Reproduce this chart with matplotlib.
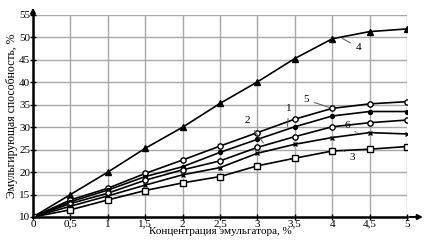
import matplotlib
matplotlib.use("Agg")
import matplotlib.pyplot as plt

x = [0, 0.5, 1, 1.5, 2, 2.5, 3, 3.5, 4, 4.5, 5]
curve4 = [10, 15.0, 20.0, 25.3, 30.0, 35.3, 40.1, 45.3, 49.7, 51.3, 51.9]
curve5 = [10, 13.8, 16.4, 19.7, 22.7, 25.8, 28.8, 31.8, 34.2, 35.2, 35.7]
curve1 = [10, 13.4, 16.0, 19.0, 21.2, 24.4, 27.3, 30.1, 32.5, 33.5, 33.5]
curve2 = [10, 13.0, 15.3, 18.2, 20.5, 22.5, 25.5, 27.9, 30.1, 31.0, 31.6]
curve6 = [10, 12.4, 14.7, 17.1, 19.4, 21.0, 24.2, 26.2, 27.7, 28.8, 28.5]
curve3 = [10, 11.6, 13.8, 15.9, 17.6, 19.0, 21.4, 23.1, 24.7, 25.1, 25.7]

xticks = [0, 0.5, 1, 1.5, 2, 2.5, 3, 3.5, 4, 4.5, 5]
xticklabels = ["0", "0,5", "1", "1,5", "2", "2,5", "3", "3,5", "4", "4,5", "5"]
yticks = [10, 15, 20, 25, 30, 35, 40, 45, 50, 55]

plt.rcParams['font.family'] = ['Liberation Serif', 'DejaVu Serif']

fig = plt.figure(figsize=(4.25, 2.41), dpi=100)
ax = fig.add_axes([33/425, 1 - 217/241, 374/425, 202/241])

ax.set_xlim(0, 5)
ax.set_ylim(10, 55)
ax.set_xticks(xticks)
ax.set_xticklabels(xticklabels)
ax.set_yticks(yticks)
ax.grid(True, color="#a8a8a8", linewidth=1.0)
ax.set_axisbelow(True)
for s in ["top", "right"]:
    ax.spines[s].set_visible(False)
for s in ["left", "bottom"]:
    ax.spines[s].set_linewidth(1.8)
ax.tick_params(axis="both", direction="inout", length=4, width=1.0,
               labelsize=8, pad=0)

lw = 1.2
ms = 3.8
ax.plot(x, curve4, color="black", lw=lw, marker="^", ms=ms, mfc="black")
ax.plot(x, curve5, color="black", lw=lw, marker="o", ms=ms, mfc="white", mew=1)
ax.plot(x, curve1, color="black", lw=lw, marker="o", ms=2.8, mfc="black")
ax.plot(x, curve2, color="black", lw=lw, marker="o", ms=ms, mfc="white", mew=1)
ax.plot(x, curve6, color="black", lw=lw, marker="x", ms=3.2, mew=1)
ax.plot(x, curve3, color="black", lw=lw, marker="s", ms=ms, mfc="white", mew=1)

# curve labels with leader lines
lbl = dict(fontsize=8, color="black", ha="center", va="center")
lp = dict(arrowstyle="-", color="#555555", lw=0.7)
ax.annotate("4", xy=(4.1, 50.1), xytext=(4.35, 47.8), arrowprops=lp, **lbl)
ax.annotate("5", xy=(4.0, 34.2), xytext=(3.65, 36.1), arrowprops=lp, **lbl)
ax.annotate("1", xy=(3.4, 29.6), xytext=(3.42, 34.2), arrowprops=lp, **lbl)
ax.annotate("2", xy=(3.1, 26.0), xytext=(2.87, 31.4), arrowprops=lp, **lbl)
ax.annotate("6", xy=(4.35, 28.5), xytext=(4.2, 30.4), arrowprops=lp, **lbl)
ax.annotate("3", xy=(4.15, 24.8), xytext=(4.27, 23.2), arrowprops=lp, **lbl)

# axis arrows
ax.annotate("", xy=(1.05, 0), xycoords="axes fraction", xytext=(1.0, 0),
            arrowprops=dict(arrowstyle="-|>", color="black", lw=1.5,
                            mutation_scale=7), annotation_clip=False)
ax.annotate("", xy=(0, 1.05), xycoords="axes fraction", xytext=(0, 1.0),
            arrowprops=dict(arrowstyle="-|>", color="black", lw=1.5,
                            mutation_scale=7), annotation_clip=False)

ax.set_xlabel("Концентрация эмульгатора, %", fontsize=8, labelpad=-1)
ax.set_ylabel("Эмульгирующая способность, %", fontsize=8.5, labelpad=1)

fig.savefig("out.png", dpi=100)
